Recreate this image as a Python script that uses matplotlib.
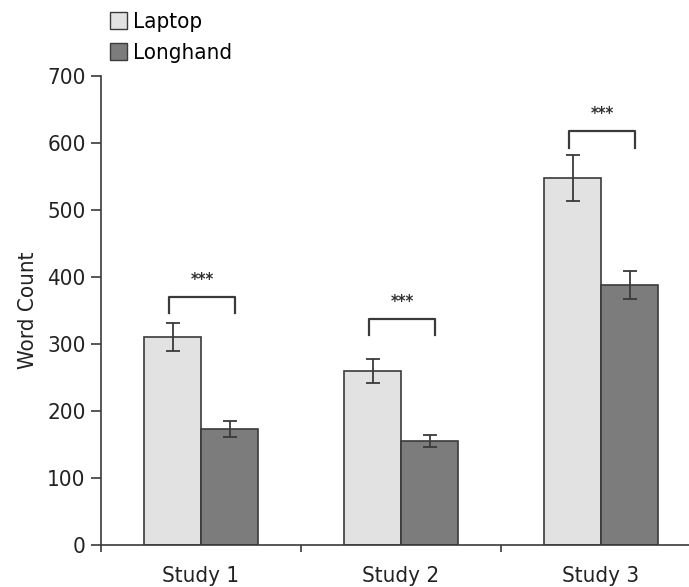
#!/usr/bin/env python

import numpy as np
import matplotlib.pyplot as plt
from matplotlib.patches import Patch

plt.rcParams['font.family'] = ['DejaVu Sans']
plt.rcParams['font.stretch'] = 'condensed'

studies = ['Study 1', 'Study 2', 'Study 3']
laptop = [310, 260, 548]
laptop_err = [21, 18, 34]
longhand = [173, 155, 388]
longhand_err = [12, 9, 21]
bracket_y = [370, 337, 618]
bracket_leg = [346, 313, 592]
sig = ['***', '***', '***']

fs = 16
light = '#e2e2e2'
dark = '#7c7c7c'
edge = '#3a3a3a'


def main():
    fig = plt.figure(figsize=(6.89, 5.87), dpi=100)
    ax = fig.add_axes([0.1466, 0.0716, 0.8534, 0.799])
    x = np.arange(len(studies))
    w = 0.285

    ax.bar(x - w / 2, laptop, w, color=light, edgecolor=edge, linewidth=1.2,
           yerr=laptop_err, error_kw=dict(ecolor=edge, elinewidth=1.3, capsize=5, capthick=1.3))
    ax.bar(x + w / 2, longhand, w, color=dark, edgecolor=edge, linewidth=1.2,
           yerr=longhand_err, error_kw=dict(ecolor=edge, elinewidth=1.3, capsize=5, capthick=1.3))

    # significance brackets
    for xi, top, leg, s in zip(x, bracket_y, bracket_leg, sig):
        x1, x2 = xi - 0.16, xi + 0.17
        ax.plot([x1, x1, x2, x2], [leg, top, top, leg], color=edge, lw=1.6,
                solid_joinstyle='round')
        ax.text((x1 + x2) / 2, top + 12, s, ha='center', va='bottom', fontsize=12,
                fontweight='bold', color='#333333')

    ax.set_xlim(-0.5, 2.44)
    ax.set_ylim(0, 700)
    ax.set_yticks(range(0, 701, 100))
    ax.set_xticks(x)
    ax.set_xticklabels(studies, fontsize=fs)
    ax.set_xticks([-0.5, 0.5, 1.5], minor=True)
    ax.tick_params(axis='x', which='major', length=0, pad=15)
    ax.tick_params(axis='x', which='minor', length=5, width=1.2, color=edge)
    ax.tick_params(axis='y', labelsize=fs, length=7, width=1.2, color=edge, pad=4)
    for lab in ax.get_xticklabels() + ax.get_yticklabels():
        lab.set_color('#222222')

    for side in ['top', 'right']:
        ax.spines[side].set_visible(False)
    for side in ['left', 'bottom']:
        ax.spines[side].set_color(edge)
        ax.spines[side].set_linewidth(1.2)

    ax.set_ylabel('Word Count', fontsize=fs, color='#222222', labelpad=7)

    handles = [Patch(facecolor=light, edgecolor=edge, label='Laptop'),
               Patch(facecolor=dark, edgecolor=edge, label='Longhand')]
    fig.legend(handles=handles, loc='upper left', bbox_to_anchor=(0.142, 1.0),
               frameon=False, fontsize=fs, handlelength=0.75, handleheight=0.75,
               handletextpad=0.3, labelspacing=0.5, borderaxespad=0.15)

    plt.savefig('out.png', dpi=100)
    plt.close()


if __name__ == "__main__":
    main()
